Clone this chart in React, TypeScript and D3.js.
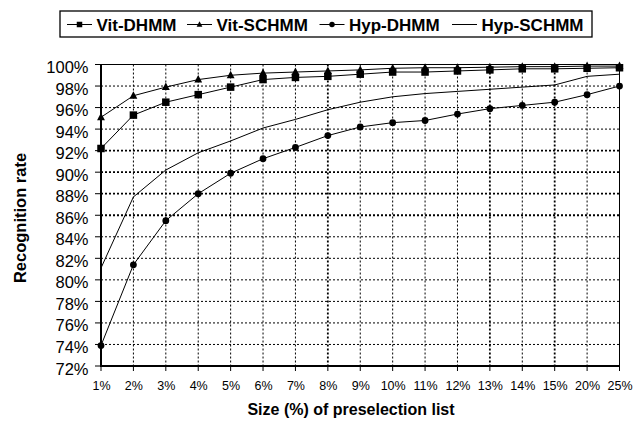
import React from "react";
import * as d3 from "d3";

const categories = ["1%", "2%", "3%", "4%", "5%", "6%", "7%", "8%", "9%", "10%", "11%", "12%", "13%", "14%", "15%", "20%", "25%"];
const vitDHMM = [92.2, 95.3, 96.5, 97.2, 97.9, 98.6, 98.8, 98.9, 99.1, 99.3, 99.3, 99.4, 99.5, 99.6, 99.6, 99.65, 99.7];
const vitSCHMM = [95.1, 97.1, 97.9, 98.6, 99.0, 99.2, 99.3, 99.4, 99.5, 99.65, 99.7, 99.7, 99.75, 99.8, 99.8, 99.85, 99.85];
const hypDHMM = [73.9, 81.4, 85.5, 88.0, 89.9, 91.25, 92.3, 93.4, 94.2, 94.6, 94.8, 95.4, 95.9, 96.2, 96.5, 97.2, 98.0];
const hypSCHMM = [81.1, 87.7, 90.2, 91.8, 92.9, 94.1, 94.9, 95.8, 96.5, 97.0, 97.3, 97.5, 97.7, 97.9, 98.1, 98.9, 99.1];
const yTicks = [72, 74, 76, 78, 80, 82, 84, 86, 88, 90, 92, 94, 96, 98, 100];

const seriesNames = ["Vit-DHMM", "Vit-SCHMM", "Hyp-DHMM", "Hyp-SCHMM"];
const seriesMarkers = ["square", "triangle", "circle", "none"];

// gridlines that appear heavier in the reference rendering
const heavyH = [86, 88, 90, 92];
const heavyV = ["8%", "13%", "15%"];

const FONT = "'Liberation Sans', Arial, sans-serif";

function Marker({ type, x, y, size }: { type: string; x: number; y: number; size: number }) {
  if (type === "square") {
    return <rect x={x - size / 2} y={y - size / 2} width={size} height={size} fill="#000" />;
  }
  if (type === "triangle") {
    const h = size;
    const w = size * 1.05;
    return (
      <path
        d={`M${x},${y - h * 0.6}L${x + w / 2},${y + h * 0.4}L${x - w / 2},${y + h * 0.4}Z`}
        fill="#000"
      />
    );
  }
  if (type === "circle") {
    return <circle cx={x} cy={y} r={size / 2} fill="#000" />;
  }
  return null;
}

export default function App() {
  const W = 643;
  const H = 421;
  const x0 = 101;
  const x1 = 619.5;
  const yTop = 64.5;
  const yBot = 366;

  const x = d3.scalePoint<string>().domain(categories).range([x0, x1]);
  const y = d3.scaleLinear().domain([72, 100]).range([yBot, yTop]);

  const line = d3
    .line<number>()
    .x((_, i) => x(categories[i]) as number)
    .y((d) => y(d));

  const seriesData = [vitDHMM, vitSCHMM, hypDHMM, hypSCHMM];
  const drawOrder = [3, 2, 0, 1];
  const markerSizes: Record<string, number> = { square: 7.5, triangle: 7.5, circle: 6.8, none: 0 };

  const legendLineX = [67, 187, 319.5, 452];

  return (
    <svg
      width={W}
      height={H}
      style={{ position: "absolute", left: 0, top: 0, background: "#fff" }}
      fontFamily={FONT}
    >
      <rect x={0} y={0} width={W} height={H} fill="#fff" />

      {/* horizontal gridlines */}
      {yTicks
        .filter((t) => t > 72 && t < 100)
        .map((t) => (
          <line
            key={"h" + t}
            x1={x0}
            x2={x1}
            y1={y(t)}
            y2={y(t)}
            stroke="#000"
            strokeWidth={heavyH.includes(t) ? 1.8 : 1}
            strokeDasharray="2,2"
          />
        ))}
      {/* vertical gridlines */}
      {categories.slice(1, categories.length - 1).map((c) => (
        <line
          key={"v" + c}
          x1={x(c)}
          x2={x(c)}
          y1={yTop}
          y2={yBot}
          stroke="#000"
          strokeWidth={heavyV.includes(c) ? 1.8 : 1}
          strokeDasharray="2,2"
        />
      ))}
      {/* top and right border */}
      <line x1={x0} x2={x1} y1={yTop} y2={yTop} stroke="#000" strokeWidth={1} />
      <line x1={x1} x2={x1} y1={yTop} y2={yBot} stroke="#000" strokeWidth={1} />

      {/* axes */}
      <line x1={x0} x2={x0} y1={yTop - 0.5} y2={yBot + 1} stroke="#000" strokeWidth={2} />
      <line x1={x0 - 1} x2={x1} y1={yBot} y2={yBot} stroke="#000" strokeWidth={2} />
      {yTicks.map((t) => (
        <g key={"yt" + t}>
          <line x1={x0 - 6} x2={x0} y1={y(t)} y2={y(t)} stroke="#000" strokeWidth={1} />
          <text x={88.5} y={y(t) + 8.5} textAnchor="end" fontSize={16.5} fill="#000">
            {t}%
          </text>
        </g>
      ))}
      {categories.map((c) => (
        <g key={"xt" + c}>
          <line x1={x(c)} x2={x(c)} y1={yBot} y2={yBot + 5} stroke="#000" strokeWidth={1} />
          <text x={(x(c) as number) + 0.5} y={389.5} textAnchor="middle" fontSize={12.5} fill="#000">
            {c}
          </text>
        </g>
      ))}

      {/* series */}
      {drawOrder.map((si) => (
        <g key={"s" + si}>
          <path d={line(seriesData[si]) || ""} fill="none" stroke="#000" strokeWidth={1} />
          {seriesMarkers[si] !== "none" &&
            seriesData[si].map((v, i) => (
              <Marker
                key={i}
                type={seriesMarkers[si]}
                x={x(categories[i]) as number}
                y={y(v)}
                size={markerSizes[seriesMarkers[si]]}
              />
            ))}
        </g>
      ))}

      {/* axis titles */}
      <text x={351} y={415} textAnchor="middle" fontSize={16} fontWeight="bold" fill="#000">
        Size (%) of preselection list
      </text>
      <text
        transform={`translate(25.5,218) rotate(-90)`}
        textAnchor="middle"
        fontSize={16.5}
        fontWeight="bold"
        fill="#000"
      >
        Recognition rate
      </text>

      {/* legend */}
      <rect x={60} y={11} width={532} height={26} fill="#fff" stroke="#000" strokeWidth={1.3} />
      {seriesNames.map((name, i) => (
        <g key={"lg" + i}>
          <line
            x1={legendLineX[i]}
            x2={legendLineX[i] + 25}
            y1={24.5}
            y2={24.5}
            stroke="#000"
            strokeWidth={1}
          />
          <Marker type={seriesMarkers[i]} x={legendLineX[i] + 12.5} y={24.5} size={5.5} />
          <text x={legendLineX[i] + 29.5} y={31} fontSize={17} fontWeight="bold" fill="#000">
            {name}
          </text>
        </g>
      ))}
    </svg>
  );
}
